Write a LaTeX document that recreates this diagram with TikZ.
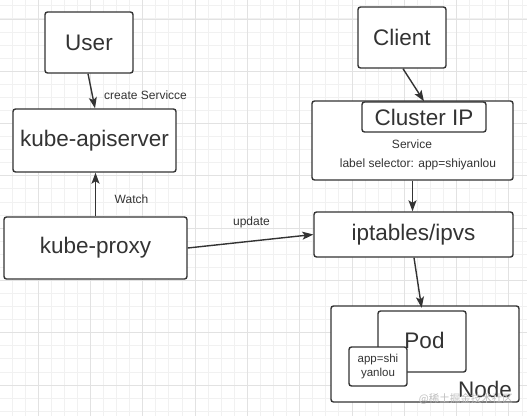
\documentclass[tikz,border=0pt]{standalone}
\usepackage{fontspec}
\setmainfont{Liberation Sans}
\newfontfamily\cjkfont{Noto Sans CJK SC}
\usetikzlibrary{arrows.meta,calc}
\definecolor{ink}{HTML}{333333}
\definecolor{gridminor}{HTML}{F1F1F1}
\definecolor{gridmajor}{HTML}{E2E2E2}
\tikzset{
  box/.style={draw=ink, line width=1.4pt, rounded corners=2.5pt, fill=white, inner sep=0pt, text=ink},
  bigtext/.style={font=\fontsize{22.5}{26}\selectfont},
  smalltext/.style={font=\fontsize{12}{14}\selectfont, text=ink, inner sep=0pt},
  conn/.style={draw=ink, line width=1.4pt, -{Stealth[length=11pt,width=8pt,inset=2.5pt]}},
}
\begin{document}
\begin{tikzpicture}[x=1pt,y=-1pt]
\useasboundingbox (0,0) rectangle (527,416);
\fill[white] (0,0) rectangle (527,416);
% grid
\foreach \i in {0,...,41} {
  \pgfmathsetmacro\xx{-1.1+13.075*\i}
  \draw[gridminor, line width=0.8pt] (\xx,0) -- (\xx,416);
}
\foreach \i in {0,...,31} {
  \pgfmathsetmacro\yy{5.8+13.075*\i}
  \draw[gridminor, line width=0.8pt] (0,\yy) -- (527,\yy);
}
\foreach \i in {0,...,9} {
  \pgfmathsetmacro\xx{38.1+52.3*\i}
  \draw[gridmajor, line width=0.8pt] (\xx,0) -- (\xx,416);
}
\foreach \i in {0,...,7} {
  \pgfmathsetmacro\yy{18.9+52.3*\i}
  \draw[gridmajor, line width=0.8pt] (0,\yy) -- (527,\yy);
}

% left column
\node[box, bigtext, minimum width=88pt, minimum height=61pt] (user) at (89,42.5) {User};
\node[box, bigtext, minimum width=163pt, minimum height=63pt] (api) at (94.5,140.5) {kube-apiserver};
\node[box, bigtext, minimum width=183pt, minimum height=62pt] (proxy) at (95.5,248) {kube-proxy};

% right column
\node[box, bigtext, minimum width=88pt, minimum height=61pt] (client) at (402,37.5) {Client};
\node[box, minimum width=201pt, minimum height=79pt] (svc) at (412.5,140.5) {};
\node[box, bigtext, minimum width=124pt, minimum height=30pt] (cip) at (424,117) {Cluster IP};
\node[smalltext] (svclabel) at (412,144) {Service};
\node[smalltext] (selector) at (418,164) {label selector: app=shiyanlou};
\node[box, bigtext, minimum width=199pt, minimum height=45pt] (ipt) at (413.5,234.5) {iptables/ipvs};

% node with pod
\node[box, minimum width=188pt, minimum height=96pt] (node) at (425,354) {};
\node[box, minimum width=88pt, minimum height=61pt] (pod) at (422,341.5) {};
\node[bigtext, text=ink, inner sep=0pt] (podlabel) at (424.5,340) {Pod};
\node[box, minimum width=58pt, minimum height=39pt, align=center,
      font=\fontsize{11.5}{13.3}\selectfont] (app) at (378,366.5) {app=shi\\yanlou};
\node[bigtext, text=ink, inner sep=0pt, anchor=east] (nodelabel) at (512,389) {Node};
\node[font=\cjkfont\fontsize{10.5}{12}\selectfont, text=black!25, inner sep=0pt, anchor=east] (wm) at (513,399) {@稀土掘金技术社区};

% connectors
\draw[conn] ([xshift=-1pt]user.south) -- ([xshift=0.5pt]api.north);
\node[smalltext, anchor=west] (createlbl) at (104,95) {create Servicce};
\draw[conn] (proxy.north) -- (proxy.north |- api.south);
\node[smalltext] (watchlbl) at (131.5,199) {Watch};
\draw[conn] (proxy.east) -- (ipt.west);
\node[smalltext] (updatelbl) at (251.5,222) {update};
\draw[conn] ([xshift=1pt]client.south) -- (cip.north);
\draw[conn] (svc.south) -- (svc.south |- ipt.north);
\draw[conn, shorten >=2.5pt] ([xshift=0.5pt]ipt.south) -- (pod.north);
\end{tikzpicture}
\end{document}
